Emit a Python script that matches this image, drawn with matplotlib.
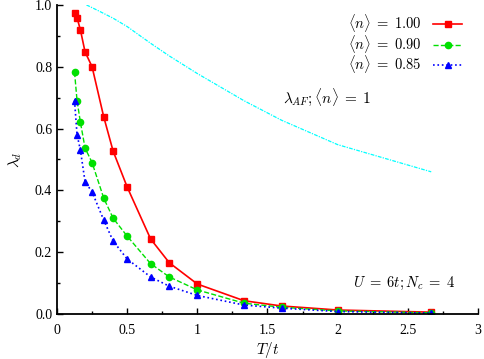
"""
d-wave pairing eigenvalue vs temperature for three fillings,
with the AF eigenvalue at half filling for reference.
"""
import numpy as np
import matplotlib
matplotlib.use('Agg')
import matplotlib.pyplot as plt

plt.rcParams['font.family'] = 'Liberation Serif'
plt.rcParams['mathtext.fontset'] = 'cm'

# temperatures T/t
temps = [0.125, 0.143, 0.167, 0.2, 0.25, 0.333, 0.4, 0.5, 0.667, 0.8, 1.0, 1.333, 1.6, 2.0, 2.667]
lam_n100 = [0.974, 0.958, 0.919, 0.848, 0.80, 0.638, 0.527, 0.411, 0.243, 0.166, 0.097, 0.043, 0.026, 0.013, 0.006]
lam_n090 = [0.783, 0.69, 0.62, 0.537, 0.49, 0.375, 0.31, 0.252, 0.163, 0.12, 0.078, 0.035, 0.022, 0.010, 0.004]
lam_n085 = [0.69, 0.58, 0.53, 0.428, 0.395, 0.304, 0.236, 0.178, 0.12, 0.09, 0.06, 0.029, 0.019, 0.008, 0.003]

# AF eigenvalue at <n>=1
temps_af = [0.21, 0.3, 0.4, 0.5, 0.667, 0.8, 1.0, 1.333, 1.6, 2.0, 2.667]
lam_af = [1.0, 0.98, 0.957, 0.93, 0.876, 0.835, 0.778, 0.69, 0.627, 0.548, 0.46]

fig = plt.figure(figsize=(4.85, 3.59), dpi=100)
ax = fig.add_axes([0.1175, 0.1253, 0.868, 0.861])

ax.plot(temps_af, lam_af, color='cyan', ls=(0, (3, 1, 1, 1)), lw=0.9, label='_nolegend_')
ax.plot(temps, lam_n100, color='red', ls='-', lw=1.2, marker='s', ms=4.5,
        label=r'$\langle n\rangle\;=\;1.00$')
ax.plot(temps, lam_n090, color='#00e000', ls='--', lw=1.0, marker='o', ms=4.5,
        label=r'$\langle n\rangle\;=\;0.90$')
ax.plot(temps, lam_n085, color='blue', ls=':', lw=1.2, marker='^', ms=4.5,
        label=r'$\langle n\rangle\;=\;0.85$')

ax.set_xlim(0, 3)
ax.set_ylim(0, 1)
ax.set_xticks(np.arange(0, 3.01, 0.5))
ax.set_xticklabels(['0', '0.5', '1', '1.5', '2', '2.5', '3'])
ax.set_yticks(np.arange(0, 1.01, 0.2))
ax.set_yticklabels(['0.0', '0.2', '0.4', '0.6', '0.8', '1.0'])
ax.set_xticks(np.arange(0.25, 3, 0.5), minor=True)
ax.set_yticks(np.arange(0.1, 1, 0.2), minor=True)
ax.tick_params(which='both', direction='in', labelsize=10)
ax.tick_params(which='major', length=4, width=1)
ax.tick_params(which='minor', length=2.5, width=1)
ax.tick_params(axis='x', pad=7)
for side in ['top', 'right']:
    ax.spines[side].set_visible(False)
for side in ['left', 'bottom']:
    ax.spines[side].set_linewidth(1.3)

ax.set_xlabel(r'$T/t$', fontsize=11, labelpad=2)
ax.set_ylabel(r'$\lambda_d$', fontsize=11, labelpad=8)

ax.text(1.61, 0.70, r'$\lambda_{AF};\langle n\rangle\;=\;1$', fontsize=11, va='center')
ax.text(2.11, 0.10, r'$U\;=\;6t; N_c\;=\;4$', fontsize=10.5, va='center')

ax.legend(loc='upper right', frameon=False, markerfirst=False, fontsize=10.5,
          handlelength=2.0, labelspacing=-0.1, borderaxespad=0.1,
          bbox_to_anchor=(0.98, 1.0))

fig.savefig('out.png', dpi=100)
plt.close(fig)
